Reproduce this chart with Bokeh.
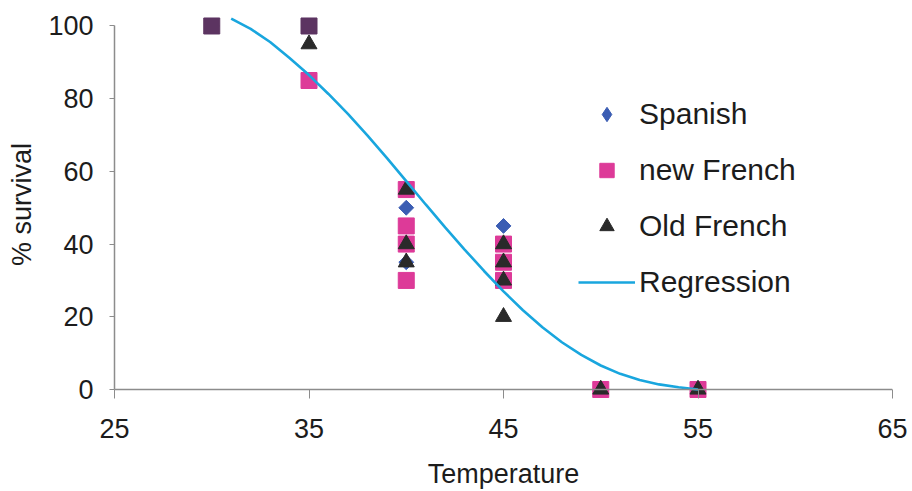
import math
from bokeh.plotting import figure
from bokeh.models import Range1d, FixedTicker, Legend, LegendItem, Span
from bokeh.embed import file_html
from bokeh.resources import INLINE

# Survival (%) against temperature for three strains
spanish_t = [30, 35, 40, 40, 45, 50, 55]
spanish_s = [100, 100, 50, 35, 45, 0, 0]

newfr_t = [30, 35, 35, 40, 40, 40, 40, 45, 45, 45, 50, 55]
newfr_s = [100, 100, 85, 55, 45, 40, 30, 40, 35, 30, 0, 0]

oldfr_t = [35, 40, 40, 40, 45, 45, 45, 45, 50, 55]
oldfr_s = [95, 55, 40, 35, 40, 35, 30, 20, 0, 0]

# Fitted regression curve
reg_t = [31, 32, 33, 34, 35, 36, 37, 38, 39, 40, 41, 42, 43, 44, 45,
         46, 47, 48, 49, 50, 51, 52, 53, 54, 55]
reg_s = [102, 99.2, 95.6, 91.2, 86.5, 81.3, 75.8, 69.9, 63.7, 57.3, 50.9,
         44.6, 38.5, 32.6, 27, 21.8, 17.1, 13, 9.5, 6.6, 4.3, 2.6, 1.4, 0.6, 0]

x_ticks = [25, 35, 45, 55, 65]
y_ticks = [0, 20, 40, 60, 80, 100]

FONT = "Liberation Sans"
TEXT = "#1c1c1c"
AXIS = "#8c8c8c"
BLUE = "#3b5db3"
PINK = "#dd3a98"
DARK = "#5c3461"
TRI = "#2a2a2a"
CYAN = "#19a6de"

p = figure(width=912, height=491, output_backend="svg", toolbar_location=None,
           x_range=Range1d(25, 65), y_range=Range1d(-2.48, 104.26),
           min_border_left=114, min_border_right=20,
           min_border_top=10, min_border_bottom=93)
p.outline_line_color = None
p.background_fill_color = "white"
p.border_fill_color = "white"
p.grid.visible = False

for ax in (p.xaxis[0], p.yaxis[0]):
    ax.axis_line_color = AXIS
    ax.axis_line_width = 1.5
    ax.major_tick_line_color = AXIS
    ax.minor_tick_line_color = None
    ax.major_label_text_font = FONT
    ax.major_label_text_font_size = "27px"
    ax.major_label_text_color = TEXT
    ax.axis_label_text_font = FONT
    ax.axis_label_text_font_size = "27px"
    ax.axis_label_text_font_style = "normal"
    ax.axis_label_text_color = TEXT

# horizontal axis: the line sits at 0 % survival, just above the frame bottom
xa = p.xaxis[0]
xa.ticker = FixedTicker(ticks=x_ticks)
xa.axis_line_color = None
xa.major_tick_in = 9
xa.major_tick_out = 0
xa.axis_label = "Temperature"
xa.major_label_standoff = 20
xa.axis_label_standoff = 18
p.add_layout(Span(location=0, dimension="width", line_color=AXIS, line_width=1.5))

ya = p.yaxis[0]
ya.ticker = FixedTicker(ticks=y_ticks)
ya.bounds = (0, 100)
ya.major_tick_in = 0
ya.major_tick_out = 5
ya.axis_label = "% survival"
ya.major_label_standoff = 16
ya.axis_label_standoff = 8

r_sp = p.scatter(spanish_t, spanish_s, marker="square", angle=math.pi / 4,
                 size=10.5, fill_color=BLUE, line_color=BLUE)
# diamond swatch for the legend entry (hidden in the plot area)
r_sp_key = p.scatter(spanish_t, spanish_s, marker="diamond",
                     fill_color=BLUE, line_color=BLUE, visible=False)

# squares where the series coincide at full survival render darker
nf_colors = [DARK if s >= 100 else PINK for s in newfr_s]
r_nf = p.scatter(newfr_t, newfr_s, marker="square", size=16,
                 fill_color=nf_colors, line_color=nf_colors)

r_of = p.scatter(oldfr_t, oldfr_s, marker="triangle", size=16,
                 fill_color=TRI, line_color=TRI)

r_reg = p.line(reg_t, reg_s, line_color=CYAN, line_width=2.6)

legend = Legend(items=[
    LegendItem(label="Spanish", renderers=[r_sp_key], index=0),
    LegendItem(label="new French", renderers=[r_nf], index=2),
    LegendItem(label="Old French", renderers=[r_of]),
    LegendItem(label="Regression", renderers=[r_reg]),
], location=(464, 98))
legend.background_fill_alpha = 0
legend.border_line_color = None
legend.padding = 0
legend.margin = 0
legend.spacing = 20
legend.glyph_width = 57
legend.glyph_height = 36
legend.label_height = 36
legend.label_standoff = 4
legend.label_text_font = FONT
legend.label_text_font_size = "30px"
legend.label_text_color = TEXT
p.add_layout(legend)

open("out.html", "w").write(file_html(p, INLINE))
